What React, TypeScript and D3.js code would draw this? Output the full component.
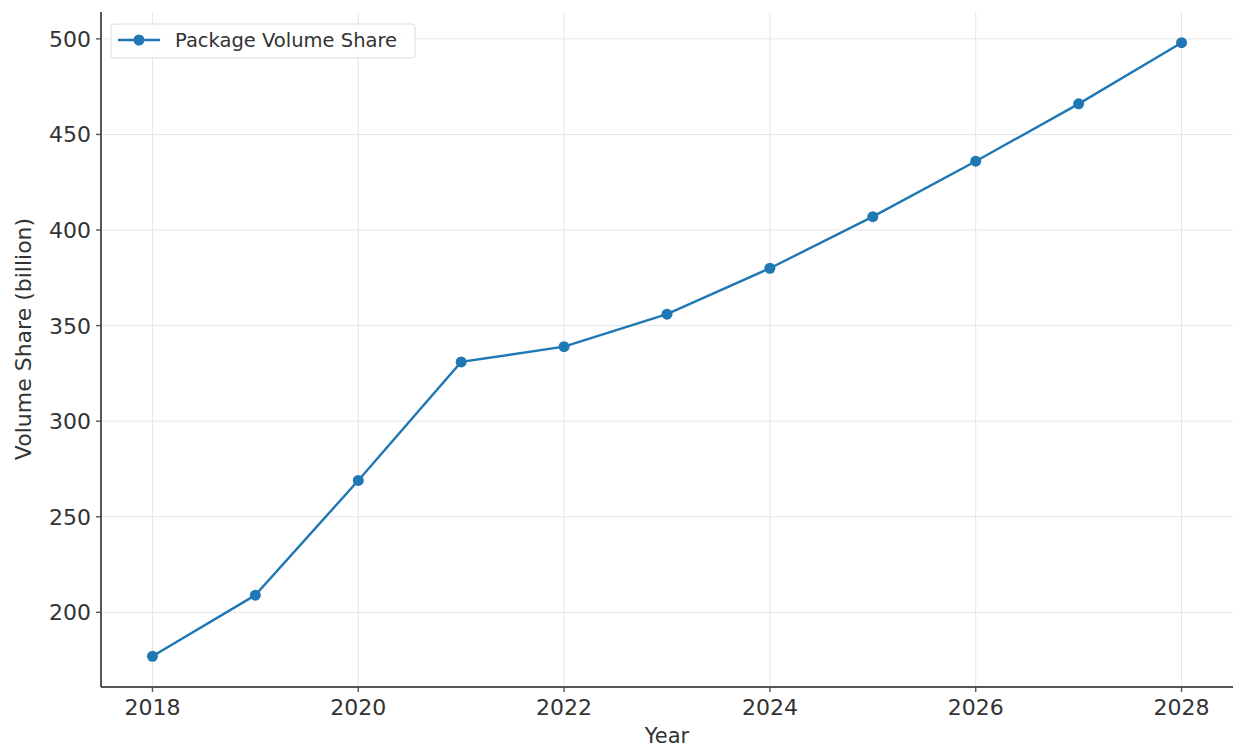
import React from "react";
import * as d3 from "d3";

const years = [2018, 2019, 2020, 2021, 2022, 2023, 2024, 2025, 2026, 2027, 2028];
const volumeShare = [177, 209, 269, 331, 339, 356, 380, 407, 436, 466, 498];
const xTicks = [2018, 2020, 2022, 2024, 2026, 2028];
const yTicks = [200, 250, 300, 350, 400, 450, 500];
const seriesName = "Package Volume Share";

export default function App() {
  const W = 1233, H = 748;
  const left = 101, right = 1233, top = 12, bottom = 687;
  const x = d3.scaleLinear().domain([2017.5, 2028.5]).range([left, right]);
  const y = d3.scaleLinear().domain([160.95, 514.05]).range([bottom, top]);
  const line = d3.line<number>().x((_, i) => x(years[i])).y((d) => y(d));
  const color = "#1f77b4";
  const font = "DejaVu Sans, sans-serif";
  return (
    <svg width={W} height={H} style={{ position: "absolute", left: 0, top: 0 }}>
      <rect width={W} height={H} fill="#fff" />
      {xTicks.map((t) => (
        <line key={"gx" + t} x1={x(t)} x2={x(t)} y1={top} y2={bottom} stroke="#e6e6e6" strokeWidth={1} />
      ))}
      {yTicks.map((t) => (
        <line key={"gy" + t} x1={left} x2={right} y1={y(t)} y2={y(t)} stroke="#e6e6e6" strokeWidth={1} />
      ))}
      <path d={line(volumeShare) || ""} fill="none" stroke={color} strokeWidth={2.4} />
      {volumeShare.map((v, i) => (
        <circle key={i} cx={x(years[i])} cy={y(v)} r={5.5} fill={color} />
      ))}
      <line x1={left} x2={left} y1={top} y2={bottom} stroke="#555" strokeWidth={2} />
      <line x1={left} x2={right} y1={bottom} y2={bottom} stroke="#555" strokeWidth={2} />
      {xTicks.map((t) => (
        <g key={"tx" + t}>
          <line x1={x(t)} x2={x(t)} y1={bottom} y2={bottom + 5} stroke="#555" strokeWidth={1.4} />
          <text x={x(t)} y={bottom + 28} textAnchor="middle" fontFamily={font} fontSize={22} fill="#333">{t}</text>
        </g>
      ))}
      {yTicks.map((t) => (
        <g key={"ty" + t}>
          <line x1={left - 5} x2={left} y1={y(t)} y2={y(t)} stroke="#555" strokeWidth={1.4} />
          <text x={left - 10} y={y(t) + 8} textAnchor="end" fontFamily={font} fontSize={22} fill="#333">{t}</text>
        </g>
      ))}
      <text x={667} y={743} textAnchor="middle" fontFamily={font} fontSize={21} fill="#333">Year</text>
      <text transform={`translate(31, 339) rotate(-90)`} textAnchor="middle" fontFamily={font} fontSize={22} fill="#333">Volume Share (billion)</text>
      <g>
        <rect x={111} y={24} width={304} height={34} rx={3} fill="#fff" fillOpacity={0.85} stroke="#dcdcdc" strokeWidth={1} />
        <line x1={118} x2={160} y1={40} y2={40} stroke={color} strokeWidth={2.4} />
        <circle cx={139} cy={40} r={5.5} fill={color} />
        <text x={175} y={47} fontFamily={font} fontSize={19.5} fill="#333">{seriesName}</text>
      </g>
    </svg>
  );
}
